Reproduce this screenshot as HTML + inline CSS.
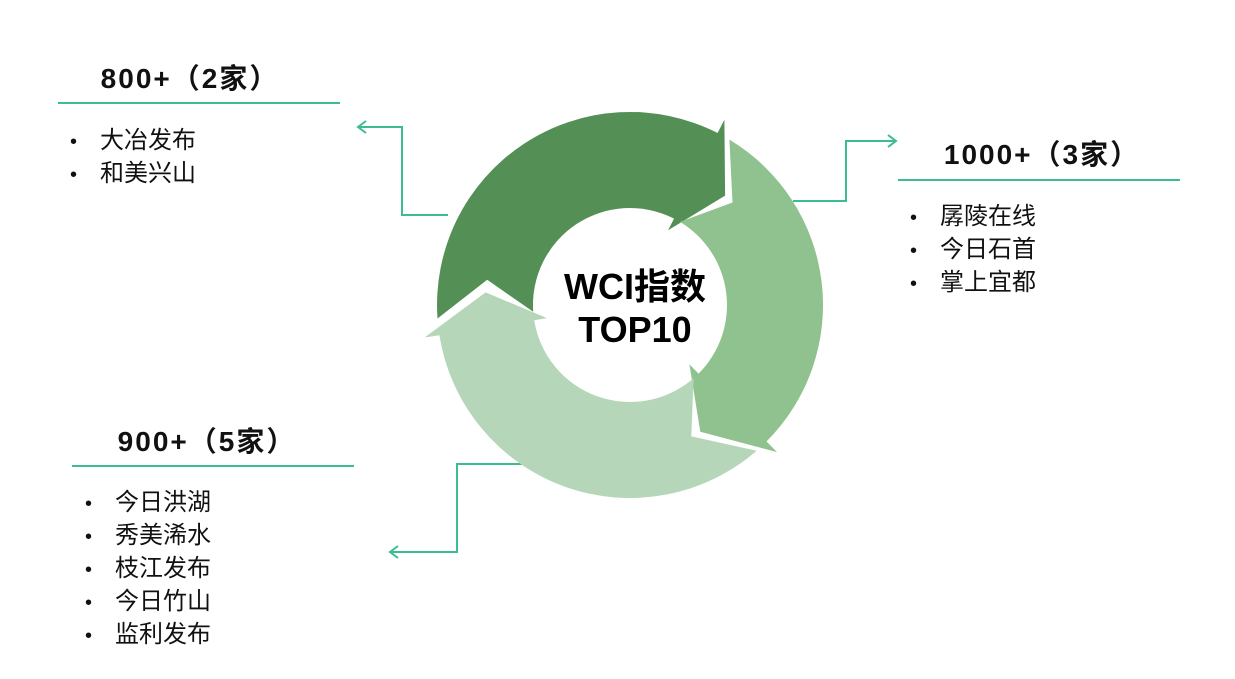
<!DOCTYPE html>
<html><head><meta charset="utf-8"><style>
html,body{margin:0;padding:0;background:#fff;}
body{width:1235px;height:679px;position:relative;overflow:hidden;font-family:"Liberation Sans","Noto Sans CJK SC",sans-serif;}
.h{position:absolute;font-weight:bold;font-size:28px;letter-spacing:2px;color:#111;text-align:center;width:300px;}
.ln{position:absolute;height:2px;background:#3dbd8d;}
.it{position:absolute;font-size:24px;color:#111;line-height:32px;}
.it span{display:inline-block;width:30px;font-size:20px;}
</style></head><body>
<svg id="s" width="1235" height="679" style="position:absolute;left:0;top:0">
<g fill="none" stroke="#3dbd8d" stroke-width="2">
<polyline points="448,215 402,215 402,127 358,127"/>
<polyline points="366,121 358,127 366,133"/>
<polyline points="793,201 846,201 846,141 896,141"/>
<polyline points="888,135 896,141 888,147"/>
<polyline points="525,464 457,464 457,552 390,552"/>
<polyline points="398,546 390,552 398,558"/>
</g>
<g id="ring"></g>
<text x="635" y="299" text-anchor="middle" font-size="36" font-weight="bold" font-family="Liberation Sans,Noto Sans CJK SC,sans-serif" fill="#000">WCI指数</text>
<text x="635" y="342" text-anchor="middle" font-size="36" font-weight="bold" font-family="Liberation Sans,Noto Sans CJK SC,sans-serif" fill="#000">TOP10</text>
</svg>
<script>
(function(){
var cx=630,cy=305,R=193,r=97,m=145,Rf=208,rf=84;
function p(rad,deg){var a=deg*Math.PI/180;return (cx+rad*Math.cos(a)).toFixed(1)+","+(cy+rad*Math.sin(a)).toFixed(1);}
function seg(a,b,tip,notch,col){
 var large=(b-a)>180?1:0;
 var d="M"+p(R,a)+" A"+R+","+R+" 0 "+large+" 1 "+p(R,b)+" L"+p(Rf,b)+" L"+p(m,tip)+" L"+p(rf,b)+" L"+p(r,b)+" A"+r+","+r+" 0 "+large+" 0 "+p(r,a)+" L"+p(m,a+notch)+" Z";
 return '<path d="'+d+'" fill="'+col+'"/>';
}
document.getElementById("ring").innerHTML=
 seg(176,297,311,14,"#548f55")+seg(301,405,421,14,"#8fc28f")+seg(49,171,185,16,"#b5d6b8");
})();
</script>
<div class="h" style="left:40px;top:57px">800+（2家）</div>
<div class="ln" style="left:58px;top:102px;width:282px"></div>
<div class="it" style="left:70px;top:125px"><span>•</span>大冶发布<br><span>•</span>和美兴山</div>
<div class="h" style="left:892px;top:133px">1000+（3家）</div>
<div class="ln" style="left:898px;top:179px;width:282px"></div>
<div class="it" style="left:910px;top:201px"><span>•</span>孱陵在线<br><span>•</span>今日石首<br><span>•</span>掌上宜都</div>
<div class="h" style="left:57px;top:420px">900+（5家）</div>
<div class="ln" style="left:72px;top:465px;width:282px"></div>
<div class="it" style="left:85px;top:487px"><span>•</span>今日洪湖<br><span>•</span>秀美浠水<br><span>•</span>枝江发布<br><span>•</span>今日竹山<br><span>•</span>监利发布</div>
</body></html>
